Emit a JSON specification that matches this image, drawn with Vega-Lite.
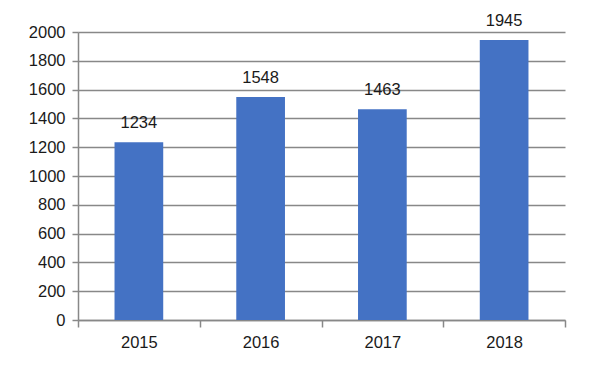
{
  "$schema": "https://vega.github.io/schema/vega-lite/v6.json",
  "width": 487,
  "height": 288,
  "autosize": "none",
  "padding": {"left": 78, "top": 32, "right": 27, "bottom": 50},
  "background": "white",
  "config": {"view": {"stroke": null}, "font": "Liberation Sans"},
  "data": {"values": [
    {"year": "2015", "value": 1234},
    {"year": "2016", "value": 1548},
    {"year": "2017", "value": 1463},
    {"year": "2018", "value": 1945}
  ]},
  "encoding": {
    "x": {
      "field": "year", "type": "nominal", "sort": null,
      "scale": {"paddingInner": 0, "paddingOuter": 0},
      "axis": {
        "title": null, "labelAngle": 0, "labelFontSize": 16.5, "labelColor": "#1a1a1a",
        "labelFont": "Liberation Sans", "labelPadding": 7,
        "domainColor": "#888888", "domainWidth": 1.5,
        "tickColor": "#888888", "tickWidth": 1.5, "tickSize": 7, "tickBand": "extent",
        "grid": false
      }
    },
    "y": {
      "field": "value", "type": "quantitative",
      "scale": {"domain": [0, 2000], "nice": false},
      "axis": {
        "title": null, "values": [0, 200, 400, 600, 800, 1000, 1200, 1400, 1600, 1800, 2000],
        "format": "d",
        "labelFontSize": 16.5, "labelColor": "#1a1a1a", "labelFont": "Liberation Sans", "labelPadding": 7,
        "domainColor": "#888888", "domainWidth": 1.5,
        "tickColor": "#888888", "tickWidth": 1.5, "tickSize": 6,
        "grid": true, "gridColor": "#888888", "gridWidth": 1.5
      }
    }
  },
  "layer": [
    {"mark": {"type": "bar", "color": "#4472C4", "width": {"band": 0.4}}},
    {
      "mark": {"type": "text", "baseline": "alphabetic", "dy": -14, "fontSize": 16.5, "color": "#1a1a1a", "font": "Liberation Sans"},
      "encoding": {"text": {"field": "value", "type": "quantitative", "format": "d"}}
    }
  ]
}
